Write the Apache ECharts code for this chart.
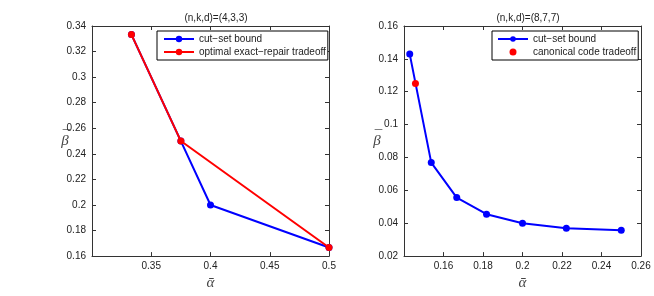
<!DOCTYPE html>
<html><head><meta charset="utf-8">
<script src="https://cdn.jsdelivr.net/npm/echarts@6/dist/echarts.min.js"></script>
<style>html,body{margin:0;padding:0;background:#fff}#c{width:654px;height:296px}</style>
</head><body><div id="c"></div>
<script>
// Left panel (n,k,d)=(4,3,3)
const leftTitle = '(n,k,d)=(4,3,3)';
const leftCutAlpha = [0.3333, 0.375, 0.4, 0.5];
const leftCutBeta  = [0.3333, 0.25, 0.2, 0.1667];
const leftOptAlpha = [0.3333, 0.375, 0.5];
const leftOptBeta  = [0.3333, 0.25, 0.1667];
const leftXTicks = [0.3, 0.35, 0.4, 0.45, 0.5];
const leftYTicks = [0.16, 0.18, 0.2, 0.22, 0.24, 0.26, 0.28, 0.3, 0.32, 0.34];
// Right panel (n,k,d)=(8,7,7)
const rightTitle = '(n,k,d)=(8,7,7)';
const rightCutAlpha = [0.1429, 0.1538, 0.1667, 0.1818, 0.2, 0.2222, 0.25];
const rightCutBeta  = [0.1429, 0.0769, 0.0556, 0.0455, 0.04, 0.037, 0.0357];
const rightCanAlpha = [0.1458];
const rightCanBeta  = [0.125];
const rightXTicks = [0.14, 0.16, 0.18, 0.2, 0.22, 0.24, 0.26];
const rightYTicks = [0.02, 0.04, 0.06, 0.08, 0.1, 0.12, 0.14, 0.16];

const nameCut = 'cut\u2212set bound';
const nameOpt = 'optimal exact\u2212repair tradeoff';
const nameCan = 'canonical code tradeoff';

const zip = (a, b) => a.map((v, i) => [v, b[i]]);
const fmt = v => String(+(+v).toFixed(3));
const axisColor = '#333';
const labelFont = {fontFamily: 'Liberation Sans, Arial, sans-serif', fontSize: 10, color: '#222'};
const mathFont = {fontFamily: 'Liberation Serif, DejaVu Serif, serif', fontStyle: 'italic', fontSize: 15, color: '#444'};

function xAx(grid, ticks, pos, hideFirst, showLabels) {
  return {
    type: 'value', gridIndex: grid, position: pos,
    min: ticks[0], max: ticks[ticks.length - 1], interval: +(ticks[1] - ticks[0]).toFixed(4),
    axisLine: {show: true, onZero: false, lineStyle: {color: axisColor, width: 1}},
    axisTick: {show: true, inside: true, length: 4, lineStyle: {color: axisColor}},
    splitLine: {show: false},
    axisLabel: Object.assign({show: showLabels, margin: 5,
      formatter: v => (hideFirst && Math.abs(v - ticks[0]) < 1e-9) ? '' : fmt(v)}, labelFont),
    name: showLabels ? '\u1FB1' : '', nameLocation: 'middle', nameGap: 19,
    nameTextStyle: mathFont
  };
}
function yAx(grid, ticks, pos, showLabels, gap) {
  return {
    type: 'value', gridIndex: grid, position: pos,
    min: ticks[0], max: ticks[ticks.length - 1], interval: +(ticks[1] - ticks[0]).toFixed(4),
    axisLine: {show: true, onZero: false, lineStyle: {color: axisColor, width: 1}},
    axisTick: {show: true, inside: true, length: 4, lineStyle: {color: axisColor}},
    splitLine: {show: false},
    axisLabel: Object.assign({show: showLabels, margin: 6, formatter: v => fmt(v)}, labelFont),
    name: showLabels ? '{m|\u00AF}\n{b|\u03B2}' : '', nameLocation: 'middle', nameGap: gap, nameRotate: 0,
    nameMoveOverlap: false,
    nameTextStyle: Object.assign({}, mathFont, {align: 'center',
      rich: {
        m: Object.assign({}, mathFont, {lineHeight: 1, fontStyle: 'normal', padding: [0, 0, 0, 3]}),
        b: Object.assign({}, mathFont, {lineHeight: 10})
      }})
  };
}

const lineStyle = c => ({color: c, width: 2});
const legendText = {fontFamily: 'Liberation Sans, Arial, sans-serif', fontSize: 10, color: '#222'};
const option = {
  animation: false,
  backgroundColor: '#fff',
  title: [
    {text: leftTitle, left: 211, top: 8, textAlign: 'center',
     textStyle: {fontFamily: 'Liberation Sans, Arial, sans-serif', fontSize: 10, fontWeight: 'normal', color: '#222'}},
    {text: rightTitle, left: 523, top: 8, textAlign: 'center',
     textStyle: {fontFamily: 'Liberation Sans, Arial, sans-serif', fontSize: 10, fontWeight: 'normal', color: '#222'}}
  ],
  grid: [
    {left: 92, top: 26, width: 237, height: 242},
    {left: 404, top: 26, width: 237, height: 242}
  ],
  xAxis: [
    xAx(0, leftXTicks, 'bottom', true, true),
    xAx(1, rightXTicks, 'bottom', true, true),
    xAx(0, leftXTicks, 'top', true, false),
    xAx(1, rightXTicks, 'top', true, false)
  ],
  yAxis: [
    yAx(0, leftYTicks, 'left', true, 27),
    yAx(1, rightYTicks, 'left', true, 27),
    yAx(0, leftYTicks, 'right', false, 0),
    yAx(1, rightYTicks, 'right', false, 0)
  ],
  legend: [
    {orient: 'vertical', left: 157, top: 31, padding: [3, 2, 3, 6], itemGap: 3,
     itemWidth: 30, itemHeight: 8, borderColor: '#000', borderWidth: 1, backgroundColor: '#fff',
     data: [nameCut, nameOpt], selectedMode: false, textStyle: legendText},
    {orient: 'vertical', left: 492, top: 31, padding: [3, 2, 3, 5], itemGap: 3,
     itemWidth: 30, itemHeight: 7, borderColor: '#000', borderWidth: 1, backgroundColor: '#fff',
     data: [nameCut, nameCan], selectedMode: false, textStyle: legendText}
  ],
  series: [
    {name: nameCut, type: 'line', xAxisIndex: 0, yAxisIndex: 0, data: zip(leftCutAlpha, leftCutBeta),
     symbol: 'circle', symbolSize: 7, itemStyle: {color: '#0000ff'}, lineStyle: lineStyle('#0000ff'), z: 2},
    {name: nameOpt, type: 'line', xAxisIndex: 0, yAxisIndex: 0, data: zip(leftOptAlpha, leftOptBeta),
     symbol: 'circle', symbolSize: 7, itemStyle: {color: '#ff0000'}, lineStyle: lineStyle('#ff0000'), z: 3},
    {name: nameCut, type: 'line', xAxisIndex: 1, yAxisIndex: 1, data: zip(rightCutAlpha, rightCutBeta),
     symbol: 'circle', symbolSize: 7, itemStyle: {color: '#0000ff'}, lineStyle: lineStyle('#0000ff'), z: 2},
    {name: nameCan, type: 'scatter', xAxisIndex: 1, yAxisIndex: 1, data: zip(rightCanAlpha, rightCanBeta),
     symbol: 'circle', symbolSize: 7, itemStyle: {color: '#ff0000', opacity: 1}, z: 3}
  ]
};
const chart = echarts.init(document.getElementById('c'), null, {renderer: 'canvas'});
chart.setOption(option);
</script></body></html>
